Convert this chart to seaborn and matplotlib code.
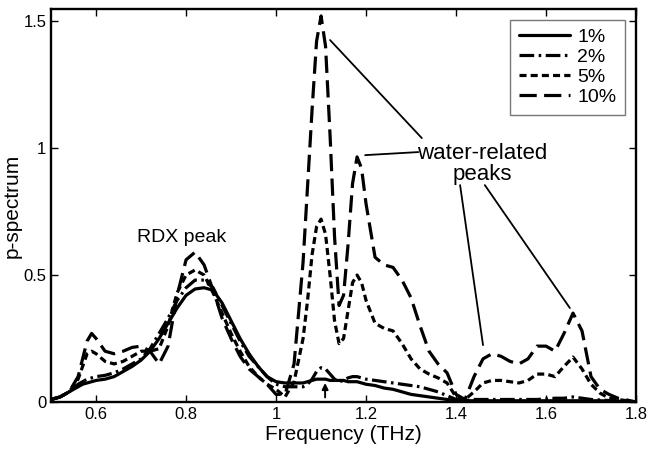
import numpy as np
import pandas as pd
import matplotlib
matplotlib.use("Agg")
import matplotlib.pyplot as plt
import seaborn as sns

freq = [0.50, 0.52, 0.54, 0.56, 0.57, 0.58, 0.59, 0.60, 0.62, 0.64, 0.66, 0.68, 0.70, 0.72, 0.74,
        0.76, 0.78, 0.80, 0.82, 0.84, 0.86, 0.88, 0.90, 0.92, 0.94, 0.96, 0.98, 1.00, 1.02, 1.04,
        1.06, 1.07, 1.08, 1.09, 1.10, 1.11, 1.12, 1.13, 1.14, 1.15, 1.16, 1.17, 1.18, 1.19, 1.20,
        1.22, 1.24, 1.26, 1.28, 1.30, 1.32, 1.34, 1.36, 1.38, 1.40, 1.42, 1.44, 1.46, 1.48, 1.50,
        1.52, 1.54, 1.56, 1.58, 1.60, 1.62, 1.64, 1.66, 1.68, 1.70, 1.72, 1.74, 1.76, 1.78, 1.80]

p1 = [0.01, 0.02, 0.04, 0.06, 0.07, 0.075, 0.08, 0.085, 0.09, 0.10, 0.12, 0.14, 0.165, 0.20, 0.25,
      0.31, 0.37, 0.42, 0.445, 0.45, 0.44, 0.39, 0.32, 0.25, 0.19, 0.14, 0.10, 0.08, 0.075, 0.075,
      0.075, 0.08, 0.085, 0.09, 0.09, 0.09, 0.085, 0.085, 0.085, 0.085, 0.08, 0.08, 0.08, 0.075, 0.07,
      0.065, 0.055, 0.05, 0.04, 0.03, 0.025, 0.02, 0.015, 0.01, 0.005, 0.005, 0.005, 0.005, 0.005, 0.005,
      0.005, 0.005, 0.005, 0.005, 0.005, 0.005, 0.005, 0.005, 0.005, 0.005, 0.005, 0.004, 0.003, 0.002, 0.0]

p2 = [0.01, 0.02, 0.04, 0.07, 0.08, 0.09, 0.095, 0.10, 0.105, 0.115, 0.13, 0.15, 0.17, 0.21, 0.27,
      0.33, 0.40, 0.45, 0.48, 0.48, 0.45, 0.38, 0.31, 0.24, 0.18, 0.14, 0.10, 0.07, 0.06, 0.06,
      0.06, 0.07, 0.09, 0.12, 0.135, 0.13, 0.11, 0.09, 0.08, 0.085, 0.095, 0.10, 0.10, 0.095, 0.09,
      0.085, 0.08, 0.075, 0.07, 0.065, 0.06, 0.05, 0.04, 0.025, 0.01, 0.005, 0.01, 0.01, 0.01, 0.01,
      0.01, 0.01, 0.01, 0.01, 0.012, 0.015, 0.015, 0.02, 0.015, 0.01, 0.008, 0.006, 0.004, 0.002, 0.0]

p5 = [0.01, 0.02, 0.04, 0.09, 0.14, 0.19, 0.20, 0.19, 0.16, 0.15, 0.16, 0.18, 0.20, 0.20, 0.21,
      0.30, 0.43, 0.50, 0.52, 0.50, 0.43, 0.35, 0.27, 0.20, 0.14, 0.10, 0.07, 0.05, 0.02, 0.08,
      0.25, 0.40, 0.58, 0.69, 0.72, 0.66, 0.50, 0.32, 0.23, 0.25, 0.36, 0.47, 0.50, 0.47, 0.40,
      0.31, 0.29, 0.28, 0.23, 0.17, 0.13, 0.11, 0.095, 0.075, 0.02, 0.01, 0.04, 0.075, 0.085, 0.085,
      0.08, 0.075, 0.085, 0.11, 0.11, 0.10, 0.14, 0.177, 0.13, 0.07, 0.035, 0.015, 0.01, 0.005, 0.0]

p10 = [0.01, 0.02, 0.04, 0.10, 0.17, 0.24, 0.27, 0.25, 0.20, 0.19, 0.20, 0.215, 0.22, 0.20, 0.15,
       0.22, 0.42, 0.56, 0.59, 0.54, 0.44, 0.33, 0.25, 0.18, 0.13, 0.10, 0.07, 0.03, 0.03, 0.15,
       0.55, 0.85, 1.15, 1.42, 1.52, 1.40, 1.05, 0.65, 0.38, 0.42, 0.62, 0.86, 0.965, 0.92, 0.78,
       0.57, 0.54, 0.53, 0.48, 0.41, 0.30, 0.20, 0.15, 0.115, 0.03, 0.01, 0.10, 0.17, 0.19, 0.18,
       0.16, 0.15, 0.17, 0.22, 0.22, 0.20, 0.27, 0.35, 0.28, 0.10, 0.05, 0.03, 0.015, 0.008, 0.0]

labels = ["1%", "2%", "5%", "10%"]
xticks = [0.6, 0.8, 1.0, 1.2, 1.4, 1.6, 1.8]
xticklabels = ["0.6", "0.8", "1", "1.2", "1.4", "1.6", "1.8"]
yticks = [0, 0.5, 1.0, 1.5]
yticklabels = ["0", "0.5", "1", "1.5"]

df = pd.concat([
    pd.DataFrame({"Frequency": freq, "p": vals, "conc": lab})
    for vals, lab in zip([p1, p2, p5, p10], labels)
], ignore_index=True)

sns.set_style("ticks")
plt.rcParams["font.family"] = ["Liberation Sans", "DejaVu Sans"]
plt.rcParams["text.color"] = "black"
plt.rcParams["axes.labelcolor"] = "black"
plt.rcParams["xtick.color"] = "black"
plt.rcParams["ytick.color"] = "black"

fig = plt.figure(figsize=(6.47, 4.54), dpi=100)
ax = fig.add_axes([0.079, 0.1145, 0.904, 0.8655])

dashes = {"1%": "", "2%": (4.6, 1.4, 0.8, 1.4), "5%": (2.2, 1.3), "10%": (5.4, 2.3)}
sns.lineplot(data=df, x="Frequency", y="p", style="conc", dashes=dashes, color="black",
             linewidth=2.3, ax=ax, style_order=labels, legend=True)

ax.set_xlim(0.5, 1.8)
ax.set_ylim(0, 1.547)
ax.set_xticks(xticks)
ax.set_xticklabels(xticklabels)
ax.set_yticks(yticks)
ax.set_yticklabels(yticklabels)
ax.tick_params(direction="in", top=True, right=True, length=5, width=1, labelsize=12,
               colors="black")
ax.set_xlabel("Frequency (THz)", fontsize=15, labelpad=2)
ax.set_ylabel("p-spectrum", fontsize=15, labelpad=1)
for s in ax.spines.values():
    s.set_linewidth(1.7)
    s.set_color("black")

leg = ax.legend(loc="upper right", fontsize=14, frameon=True, fancybox=False, edgecolor="#555555",
                handlelength=2.6, borderaxespad=0.55, labelspacing=0.12, handletextpad=0.4,
                borderpad=0.45)
leg.get_frame().set_linewidth(1.0)
for t in leg.get_texts():
    t.set_color("black")

ax.text(0.791, 0.646, "RDX peak", fontsize=14, ha="center", va="center")
ax.text(1.458, 0.937, "water-related\npeaks", fontsize=16, ha="center", va="center",
        multialignment="center", linespacing=1.0)

lk = dict(color="black", linewidth=1.3)
ax.plot([1.120, 1.324], [1.425, 1.039], **lk)
ax.plot([1.198, 1.316], [0.972, 0.984], **lk)
ax.plot([1.409, 1.460], [0.854, 0.224], **lk)
ax.plot([1.464, 1.653], [0.854, 0.370], **lk)

ax.annotate("", xy=(1.109, 0.075), xytext=(1.109, 0.018),
            arrowprops=dict(arrowstyle="-|>", color="black", lw=1.4, mutation_scale=9,
                            shrinkA=0, shrinkB=0))

fig.savefig("out.png", dpi=100)
